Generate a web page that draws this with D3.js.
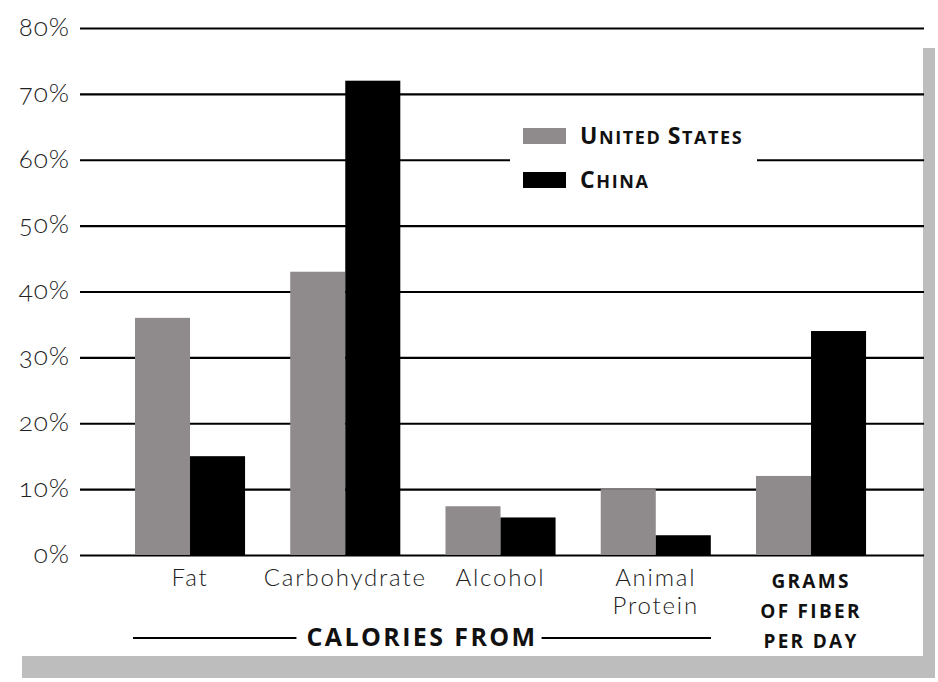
<!DOCTYPE html>
<html>
<head>
<meta charset="utf-8">
<script src="https://cdn.jsdelivr.net/npm/d3@7/dist/d3.min.js"></script>
<style>
  html, body { margin: 0; padding: 0; background: #fff; }
  svg { display: block; }
  .tick text { font-family: Lato, "Open Sans", sans-serif; font-weight: 300; font-size: 26px; fill: #222; letter-spacing: 1px; font-variant-numeric: oldstyle-nums; }
  .cat { font-family: Lato, "Open Sans", sans-serif; font-weight: 300; font-size: 24px; fill: #222; letter-spacing: 1.8px; }
  .catBold { font-family: "Open Sans", Lato, sans-serif; font-weight: 700; font-size: 19px; fill: #111; letter-spacing: 2.3px; }
  .group { font-family: "Open Sans", Lato, sans-serif; font-weight: 700; font-size: 25px; fill: #111; letter-spacing: 2.4px; }
  .leg { font-family: "Open Sans", Lato, sans-serif; font-weight: 700; fill: #111; letter-spacing: 1.6px; }
</style>
</head>
<body>
<svg id="chart" width="938" height="682"></svg>
<script>
// Diet comparison: share of calories by source, plus fiber grams per day
const categories = ["Fat", "Carbohydrate", "Alcohol", "Animal Protein", "Fiber"];
const series = ["United States", "China"];
const usValues = [36, 43, 7.4, 10, 12];
const chinaValues = [15, 72, 5.7, 3, 34];
const yTicks = [0, 10, 20, 30, 40, 50, 60, 70, 80];
const yTickLabels = ["0%", "10%", "20%", "30%", "40%", "50%", "60%", "70%", "80%"];
const categoryLabels = [["Fat"], ["Carbohydrate"], ["Alcohol"], ["Animal", "Protein"], ["GRAMS", "OF FIBER", "PER DAY"]];
const groupLabel = "CALORIES FROM";
const legendLabels = [["U", "NITED ", "S", "TATES"], ["C", "HINA"]];
const colors = ["#8f8a8b", "#000000"];

const svg = d3.select("#chart");

// drop shadow of the panel
svg.append("rect").attr("x", 923).attr("y", 48).attr("width", 12).attr("height", 630).attr("fill", "#bdbdbd");
svg.append("rect").attr("x", 22).attr("y", 656).attr("width", 913).attr("height", 22).attr("fill", "#bdbdbd");
svg.append("rect").attr("x", 0).attr("y", 0).attr("width", 923).attr("height", 656).attr("fill", "#fff");

const y = d3.scaleLinear().domain([0, 80]).range([555, 28]);
const x = d3.scaleBand().domain(categories).range([112.4, 888.65]).paddingInner(0.291).paddingOuter(0.1455);
const xs = d3.scaleBand().domain(series).range([0, x.bandwidth()]);

// gridlines with tick labels
const left = 80, right = 924;
const yAxis = d3.axisLeft(y)
  .tickValues(yTicks)
  .tickFormat((d, i) => yTickLabels[i])
  .tickSize(-(right - left))
  .tickPadding(10);
const ga = svg.append("g").attr("transform", `translate(${left},0)`).call(yAxis);
ga.select(".domain").remove();
ga.selectAll(".tick line").attr("stroke", "#000").attr("stroke-width", 2.2);
ga.selectAll(".tick text").attr("dy", "0.28em");

// legend (white box breaks the gridline behind it)
const leg = svg.append("g");
leg.append("rect").attr("x", 510).attr("y", 112).attr("width", 247).attr("height", 88).attr("fill", "#fff");
const legY = [136, 180];
series.forEach((s, i) => {
  leg.append("rect").attr("x", 523).attr("y", legY[i] - 8).attr("width", 43).attr("height", 16).attr("fill", colors[i]);
  const t = leg.append("text").attr("class", "leg").attr("x", 580).attr("y", legY[i] + 8);
  legendLabels[i].forEach((part, k) => {
    t.append("tspan").attr("font-size", k % 2 === 0 ? 23 : 18).text(part);
  });
});

// bars
const groups = svg.append("g").selectAll("g").data(categories).join("g")
  .attr("transform", d => `translate(${x(d)},0)`);
groups.selectAll("rect")
  .data((d, i) => [ {s: series[0], v: usValues[i]}, {s: series[1], v: chinaValues[i]} ])
  .join("rect")
  .attr("x", d => xs(d.s))
  .attr("width", xs.bandwidth())
  .attr("y", d => y(d.v))
  .attr("height", d => y(0) - y(d.v))
  .attr("fill", (d, i) => colors[i]);

// category labels
categories.forEach((c, i) => {
  const cx = x(c) + x.bandwidth() / 2;
  const bold = i === categories.length - 1;
  const lines = categoryLabels[i];
  lines.forEach((ln, k) => {
    svg.append("text")
      .attr("class", bold ? "catBold" : "cat")
      .attr("x", cx)
      .attr("y", bold ? 588 + k * 30 : 586 + k * 28)
      .attr("text-anchor", "middle")
      .text(ln);
  });
});

// "calories from" bracket across the first four categories
const gx0 = 133, gx1 = 711, gy = 638;
const gt = svg.append("text").attr("class", "group")
  .attr("x", (gx0 + gx1) / 2) .attr("y", gy + 8).attr("text-anchor", "middle").text(groupLabel);
const bb = gt.node().getBBox();
svg.append("line").attr("x1", gx0).attr("x2", bb.x - 10).attr("y1", gy).attr("y2", gy).attr("stroke", "#000").attr("stroke-width", 2.2);
svg.append("line").attr("x1", bb.x + bb.width + 4).attr("x2", gx1).attr("y1", gy).attr("y2", gy).attr("stroke", "#000").attr("stroke-width", 2.2);
</script>
</body>
</html>
